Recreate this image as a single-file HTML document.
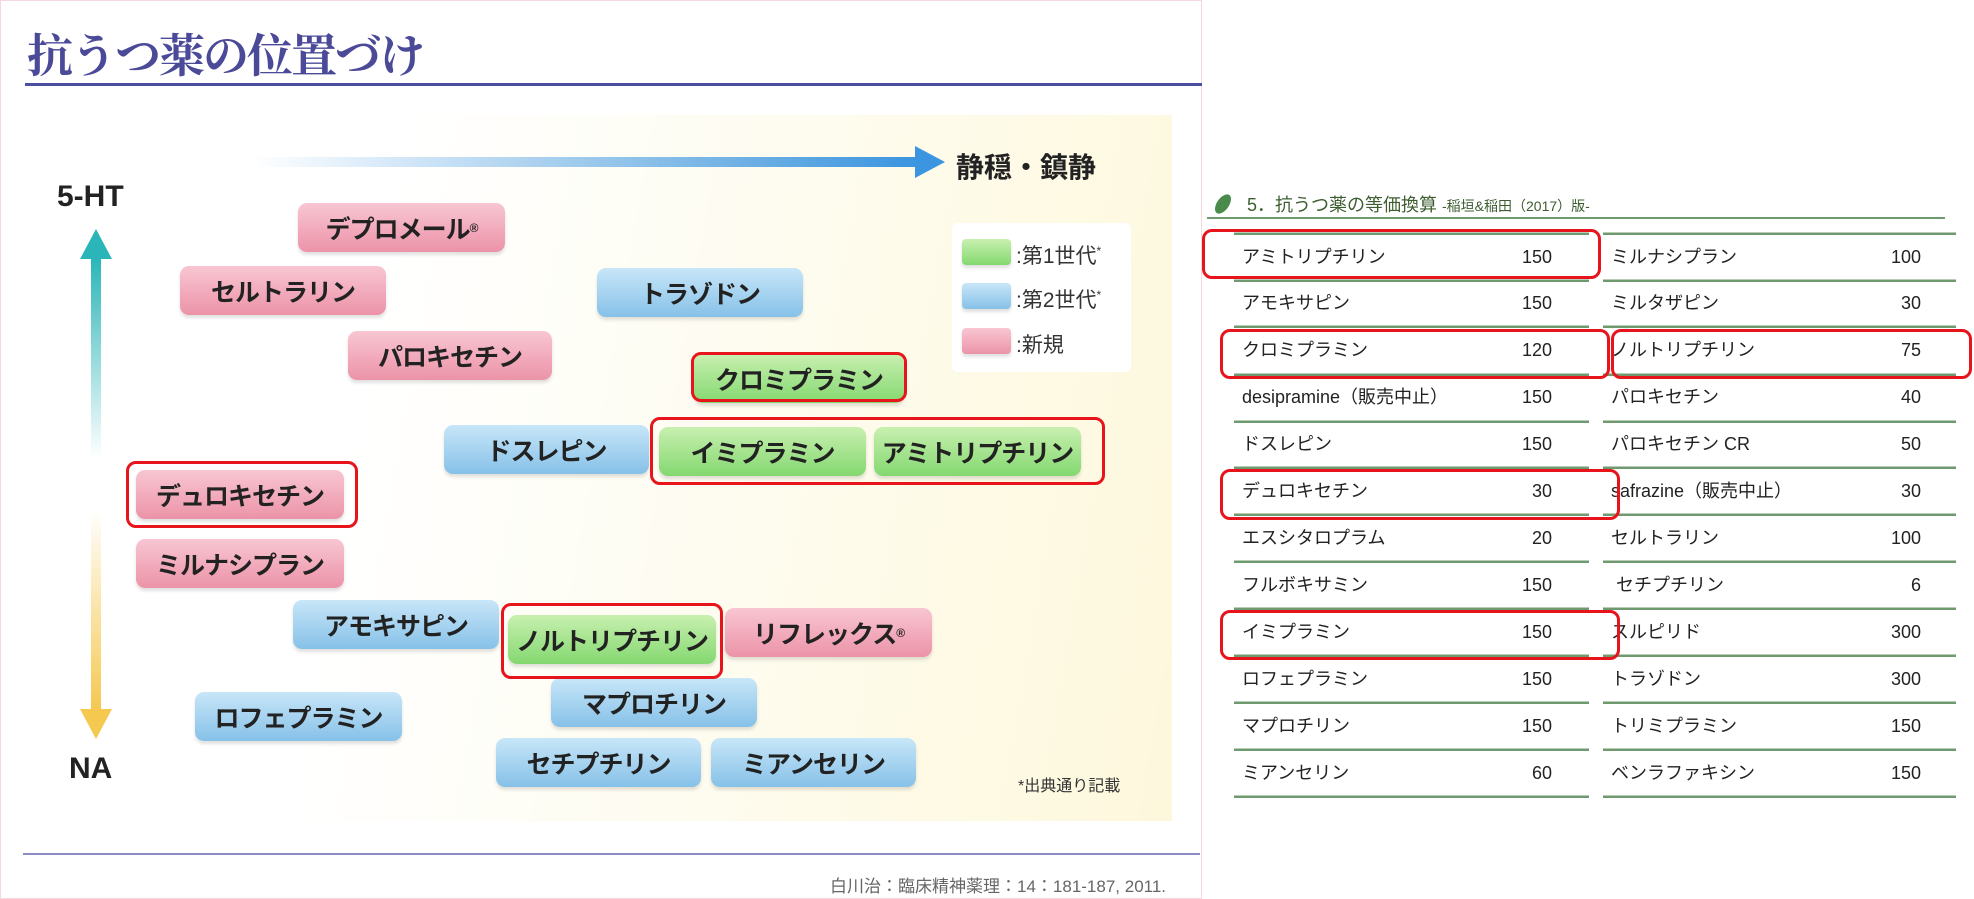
<!DOCTYPE html>
<html><head><meta charset="utf-8"><style>
*{margin:0;padding:0;box-sizing:border-box}
body{width:1974px;height:899px;background:#fff;position:relative;overflow:hidden;font-family:"Liberation Sans","Noto Sans CJK JP",sans-serif}
.a{position:absolute}
.b{position:absolute;height:49px;border-radius:9px;display:flex;align-items:center;justify-content:center;font-size:25px;font-weight:bold;color:#222;letter-spacing:-1px}
.p{background:linear-gradient(#f8c6d2,#ec93a8);box-shadow:0 3px 3px rgba(0,0,0,.12)}
.u{background:linear-gradient(#c8e6f8,#86c1e8);box-shadow:0 3px 3px rgba(0,0,0,.12)}
.g{background:linear-gradient(#c8f0b0,#84d870);box-shadow:0 3px 3px rgba(0,0,0,.12)}
.r{position:absolute;border:3px solid #e8141b;border-radius:10px}
.ln{position:absolute;height:3px;background:#6f9a6f;border-top:1px solid #b8ccb8}
.t{position:absolute;font-size:18px;color:#222;line-height:20px}
.n{position:absolute;font-size:18px;color:#222;text-align:right;width:60px;line-height:20px}
</style></head><body>
<div class="a" style="left:0;top:0;width:1202px;height:899px;border:1px solid #f5d8e0"></div>
<div class="a" style="left:27px;top:20px;font-size:46px;font-weight:bold;color:#4b4a98;font-family:'Liberation Serif','Noto Serif CJK SC',serif;letter-spacing:-2px">抗うつ薬の位置づけ</div>
<div class="a" style="left:25px;top:83px;width:1177px;height:3px;background:#4b4fa0"></div>
<div class="a" style="left:31px;top:115px;width:1141px;height:706px;background:linear-gradient(100deg,#fff 30%,#fdf8dc 100%)"></div>
<div class="a" style="left:252px;top:157px;width:665px;height:10px;background:linear-gradient(90deg,rgba(60,150,230,0),#3b95e0)"></div>
<div class="a" style="left:915px;top:146px;width:0;height:0;border-left:30px solid #3b95e0;border-top:16px solid transparent;border-bottom:16px solid transparent"></div>
<div class="a" style="left:956px;top:146px;font-size:28px;font-weight:bold;color:#222">静穏・鎮静</div>
<div class="a" style="left:57px;top:180px;font-size:30px;font-weight:bold;color:#222">5-HT</div>
<div class="a" style="left:69px;top:752px;font-size:30px;font-weight:bold;color:#222">NA</div>
<div class="a" style="left:80px;top:229px;width:0;height:0;border-bottom:30px solid #2bb5b8;border-left:16px solid transparent;border-right:16px solid transparent"></div>
<div class="a" style="left:91px;top:258px;width:10px;height:200px;background:linear-gradient(#2bb5b8,rgba(43,181,184,0))"></div>
<div class="a" style="left:91px;top:510px;width:10px;height:200px;background:linear-gradient(rgba(245,200,80,0),#f5c850)"></div>
<div class="a" style="left:80px;top:709px;width:0;height:0;border-top:30px solid #f5c850;border-left:16px solid transparent;border-right:16px solid transparent"></div>

<div class="b p" style="left:298px;top:203px;width:207px">デプロメール<sup style="font-size:12px">®</sup></div>
<div class="b p" style="left:180px;top:266px;width:206px">セルトラリン</div>
<div class="b p" style="left:348px;top:331px;width:204px">パロキセチン</div>
<div class="b p" style="left:136px;top:470px;width:208px">デュロキセチン</div>
<div class="b p" style="left:136px;top:539px;width:208px">ミルナシプラン</div>
<div class="b p" style="left:725px;top:608px;width:207px">リフレックス<sup style="font-size:12px">®</sup></div>
<div class="b u" style="left:597px;top:268px;width:206px">トラゾドン</div>
<div class="b u" style="left:444px;top:425px;width:205px">ドスレピン</div>
<div class="b u" style="left:293px;top:600px;width:206px">アモキサピン</div>
<div class="b u" style="left:195px;top:692px;width:207px">ロフェプラミン</div>
<div class="b u" style="left:551px;top:678px;width:206px">マプロチリン</div>
<div class="b u" style="left:496px;top:738px;width:205px">セチプチリン</div>
<div class="b u" style="left:711px;top:738px;width:205px">ミアンセリン</div>
<div class="b g" style="left:694px;top:354px;width:210px">クロミプラミン</div>
<div class="b g" style="left:659px;top:427px;width:207px">イミプラミン</div>
<div class="b g" style="left:874px;top:427px;width:207px">アミトリプチリン</div>
<div class="b g" style="left:508px;top:615px;width:208px">ノルトリプチリン</div>
<div class="r" style="left:691px;top:352px;width:216px;height:50px"></div>
<div class="r" style="left:650px;top:417px;width:455px;height:68px"></div>
<div class="r" style="left:126px;top:461px;width:232px;height:67px"></div>
<div class="r" style="left:501px;top:603px;width:222px;height:76px"></div>

<div class="a" style="left:952px;top:223px;width:179px;height:149px;background:#fff;border-radius:6px"></div>
<div class="a g" style="left:962px;top:239px;width:49px;height:26px;border-radius:4px"></div>
<div class="a u" style="left:962px;top:283px;width:49px;height:26px;border-radius:4px"></div>
<div class="a p" style="left:962px;top:328px;width:49px;height:26px;border-radius:4px"></div>
<div class="a" style="left:1016px;top:240px;font-size:21px;color:#333">:第1世代<sup style="font-size:12px">*</sup></div>
<div class="a" style="left:1016px;top:284px;font-size:21px;color:#333">:第2世代<sup style="font-size:12px">*</sup></div>
<div class="a" style="left:1016px;top:329px;font-size:21px;color:#333">:新規</div>
<div class="a" style="left:1018px;top:772px;font-size:16px;color:#333">*出典通り記載</div>
<div class="a" style="left:23px;top:853px;width:1177px;height:2px;background:#8a8cc0"></div>
<div class="a" style="left:830px;top:872px;font-size:17px;color:#666">白川治：臨床精神薬理：14：181-187, 2011.</div>

<div class="a" style="left:1217px;top:193px;width:12px;height:22px;background:#4a8a4a;border-radius:50%;transform:rotate(35deg)"></div>
<div class="a" style="left:1247px;top:191px;font-size:18px;color:#3d5d30;white-space:nowrap">5．抗うつ薬の等価換算 <span style="font-size:14px">-稲垣&amp;稲田（2017）版-</span></div>
<div class="a" style="left:1207px;top:217px;width:738px;height:2px;background:#6f9a6f"></div>

<div class="ln" style="left:1234px;top:232px;width:355px"></div>
<div class="ln" style="left:1603px;top:232px;width:353px"></div>
<div class="ln" style="left:1234px;top:279px;width:355px"></div><div class="ln" style="left:1603px;top:279px;width:353px"></div>
<div class="ln" style="left:1234px;top:325px;width:355px"></div><div class="ln" style="left:1603px;top:325px;width:353px"></div>
<div class="ln" style="left:1234px;top:373px;width:355px"></div><div class="ln" style="left:1603px;top:373px;width:353px"></div>
<div class="ln" style="left:1234px;top:420px;width:355px"></div><div class="ln" style="left:1603px;top:420px;width:353px"></div>
<div class="ln" style="left:1234px;top:466px;width:355px"></div><div class="ln" style="left:1603px;top:466px;width:353px"></div>
<div class="ln" style="left:1234px;top:513px;width:355px"></div><div class="ln" style="left:1603px;top:513px;width:353px"></div>
<div class="ln" style="left:1234px;top:560px;width:355px"></div><div class="ln" style="left:1603px;top:560px;width:353px"></div>
<div class="ln" style="left:1234px;top:607px;width:355px"></div><div class="ln" style="left:1603px;top:607px;width:353px"></div>
<div class="ln" style="left:1234px;top:654px;width:355px"></div><div class="ln" style="left:1603px;top:654px;width:353px"></div>
<div class="ln" style="left:1234px;top:701px;width:355px"></div><div class="ln" style="left:1603px;top:701px;width:353px"></div>
<div class="ln" style="left:1234px;top:748px;width:355px"></div><div class="ln" style="left:1603px;top:748px;width:353px"></div>
<div class="ln" style="left:1234px;top:795px;width:355px"></div><div class="ln" style="left:1603px;top:795px;width:353px"></div>

<div class="t" style="left:1242px;top:247px">アミトリプチリン</div><div class="n" style="left:1492px;top:247px">150</div>
<div class="t" style="left:1242px;top:293px">アモキサピン</div><div class="n" style="left:1492px;top:293px">150</div>
<div class="t" style="left:1242px;top:340px">クロミプラミン</div><div class="n" style="left:1492px;top:340px">120</div>
<div class="t" style="left:1242px;top:387px">desipramine（販売中止）</div><div class="n" style="left:1492px;top:387px">150</div>
<div class="t" style="left:1242px;top:434px">ドスレピン</div><div class="n" style="left:1492px;top:434px">150</div>
<div class="t" style="left:1242px;top:481px">デュロキセチン</div><div class="n" style="left:1492px;top:481px">30</div>
<div class="t" style="left:1242px;top:528px">エスシタロプラム</div><div class="n" style="left:1492px;top:528px">20</div>
<div class="t" style="left:1242px;top:575px">フルボキサミン</div><div class="n" style="left:1492px;top:575px">150</div>
<div class="t" style="left:1242px;top:622px">イミプラミン</div><div class="n" style="left:1492px;top:622px">150</div>
<div class="t" style="left:1242px;top:669px">ロフェプラミン</div><div class="n" style="left:1492px;top:669px">150</div>
<div class="t" style="left:1242px;top:716px">マプロチリン</div><div class="n" style="left:1492px;top:716px">150</div>
<div class="t" style="left:1242px;top:763px">ミアンセリン</div><div class="n" style="left:1492px;top:763px">60</div>

<div class="t" style="left:1611px;top:247px">ミルナシプラン</div><div class="n" style="left:1861px;top:247px">100</div>
<div class="t" style="left:1611px;top:293px">ミルタザピン</div><div class="n" style="left:1861px;top:293px">30</div>
<div class="t" style="left:1611px;top:340px">ノルトリプチリン</div><div class="n" style="left:1861px;top:340px">75</div>
<div class="t" style="left:1611px;top:387px">パロキセチン</div><div class="n" style="left:1861px;top:387px">40</div>
<div class="t" style="left:1611px;top:434px">パロキセチン CR</div><div class="n" style="left:1861px;top:434px">50</div>
<div class="t" style="left:1611px;top:481px">safrazine（販売中止）</div><div class="n" style="left:1861px;top:481px">30</div>
<div class="t" style="left:1611px;top:528px">セルトラリン</div><div class="n" style="left:1861px;top:528px">100</div>
<div class="t" style="left:1616px;top:575px">セチプチリン</div><div class="n" style="left:1861px;top:575px">6</div>
<div class="t" style="left:1611px;top:622px">スルピリド</div><div class="n" style="left:1861px;top:622px">300</div>
<div class="t" style="left:1611px;top:669px">トラゾドン</div><div class="n" style="left:1861px;top:669px">300</div>
<div class="t" style="left:1611px;top:716px">トリミプラミン</div><div class="n" style="left:1861px;top:716px">150</div>
<div class="t" style="left:1611px;top:763px">ベンラファキシン</div><div class="n" style="left:1861px;top:763px">150</div>

<div class="r" style="left:1202px;top:229px;width:399px;height:50px"></div>
<div class="r" style="left:1220px;top:329px;width:390px;height:50px"></div>
<div class="r" style="left:1611px;top:329px;width:361px;height:50px"></div>
<div class="r" style="left:1220px;top:469px;width:400px;height:51px"></div>
<div class="r" style="left:1220px;top:610px;width:400px;height:50px"></div>
</body></html>
